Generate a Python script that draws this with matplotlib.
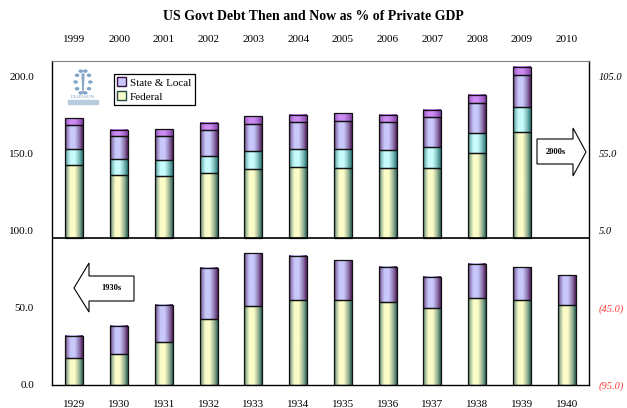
import numpy as np
import matplotlib
matplotlib.use("Agg")
import matplotlib.pyplot as plt
from matplotlib.patches import Patch, Polygon, Circle

# ── data ────────────────────────────────────────────────────────────────────
years_2000s = ["1999", "2000", "2001", "2002", "2003", "2004",
               "2005", "2006", "2007", "2008", "2009", "2010"]
years_1930s = ["1929", "1930", "1931", "1932", "1933", "1934",
               "1935", "1936", "1937", "1938", "1939", "1940"]

# 2000s panel, right-axis units (stacked segments, bottom to top)
fed_a_2000s = [47.9, 41.4, 40.3, 42.4, 45.0, 46.1, 45.9, 45.5, 45.5, 55.2, 69.1, 0]
fed_b_2000s = [10.3, 10.1, 10.8, 10.9, 11.7, 11.7, 12.3, 11.6, 13.6, 13.0, 16.2, 0]
sl_a_2000s = [15.6, 15.2, 15.6, 16.8, 17.5, 17.5, 18.2, 18.5, 19.3, 19.3, 20.6, 0]
sl_b_2000s = [4.4, 3.9, 4.3, 4.8, 5.0, 4.8, 4.8, 4.7, 4.9, 5.2, 5.4, 0]

# 1930s panel, left-axis units
fed_1930s = [17.7, 20.3, 27.9, 42.6, 51.1, 55.0, 55.2, 53.5, 49.8, 56.1, 55.2, 51.8]
sl_1930s = [14.3, 18.2, 24.0, 33.2, 34.2, 28.8, 25.8, 22.9, 20.1, 22.5, 21.0, 19.4]

OFFSET = 95.0            # right axis zero sits at 95 on the left axis
left_ticks = [0, 50, 100, 150, 200]
left_labels = ["0.0", "50.0", "100.0", "150.0", "200.0"]
right_labels = ["(95.0)", "(45.0)", "5.0", "55.0", "105.0"]

# colours: (face, edge) for the gradient fill
YELLOW = ("#fcfcc8", "#1f5a52")
CYAN = ("#c8fcfc", "#1f6a6a")
LAVENDER = ("#c8c8fc", "#4a1450")
VIOLET = ("#cc8cf4", "#7a3a9a")

SERIF = "Liberation Serif"
W, H = 627, 408


def fig_xy(px, py):
    return px / W, 1 - py / H


def shade(ax, x0, w, y0, h, colors):
    """Fill a bar segment with a horizontal light-to-dark gradient."""
    if h <= 0:
        return
    face = np.array(matplotlib.colors.to_rgb(colors[0]))
    edge = np.array(matplotlib.colors.to_rgb(colors[1]))
    t = np.linspace(0, 1, 64)
    f = np.interp(t, [0, 0.1, 0.3, 0.55, 0.8, 1], [0.0, 0.55, 1, 1, 0.55, 0.05])
    img = edge[None, :] + f[:, None] * (face - edge)[None, :]
    ax.imshow(img[None, :, :], extent=(x0, x0 + w, y0, y0 + h),
              aspect="auto", interpolation="bilinear", zorder=2)
    ax.add_patch(matplotlib.patches.Rectangle((x0, y0), w, h, fill=False,
                                              edgecolor="#111111", lw=0.9, zorder=3))


fig = plt.figure(figsize=(W / 100, H / 100), dpi=100)
ax = fig.add_axes([52 / W, 1 - 385 / H, 537 / W, 324 / H])

x = np.arange(len(years_2000s))
bw = 0.4

# 2000s stacks
for i in x:
    base = OFFSET
    for seg, col in ((fed_a_2000s, YELLOW), (fed_b_2000s, CYAN),
                     (sl_a_2000s, LAVENDER), (sl_b_2000s, VIOLET)):
        shade(ax, i - bw / 2, bw, base, seg[i], col)
        base += seg[i]

# 1930s stacks
for i in x:
    shade(ax, i - bw / 2, bw, 0, fed_1930s[i], YELLOW)
    shade(ax, i - bw / 2, bw, fed_1930s[i], sl_1930s[i], LAVENDER)

ax.axhline(OFFSET, color="black", lw=1.2, zorder=4)
ax.set_xlim(-0.5, len(x) - 0.5)
ax.set_ylim(0, 210)

for side in ("left", "right", "bottom"):
    ax.spines[side].set_color("black")
    ax.spines[side].set_linewidth(1.0)
ax.spines["top"].set_color("#808080")

ax.set_yticks(left_ticks)
ax.set_yticklabels(left_labels, fontfamily=SERIF, fontsize=8)
ax.tick_params(axis="y", length=0, pad=13)
ax.set_xticks(x)
ax.set_xticklabels(years_1930s, fontfamily=SERIF, fontsize=8)
ax.tick_params(axis="x", length=0, pad=11)

top = ax.secondary_xaxis("top")
top.set_xticks(x)
top.set_xticklabels(years_2000s, fontfamily=SERIF, fontsize=8)
top.tick_params(length=0, pad=12)
top.spines["top"].set_visible(False)

rax = ax.twinx()
rax.set_ylim(ax.get_ylim())
rax.set_yticks(left_ticks)
rax.set_yticklabels(right_labels, fontfamily=SERIF, fontsize=7.5, style="italic")
for lab in rax.get_yticklabels()[:2]:
    lab.set_color("#ff3b3b")
rax.tick_params(axis="y", length=0, pad=7)
for s in rax.spines.values():
    s.set_visible(False)

# legend
handles = [Patch(facecolor=LAVENDER[0], edgecolor="#3a1040", lw=1.0, label="State & Local"),
           Patch(facecolor=YELLOW[0], edgecolor="#1f4a42", lw=1.0, label="Federal")]
leg = fig.legend(handles=handles, loc="upper left", bbox_to_anchor=fig_xy(108, 68),
                 prop={"family": SERIF, "size": 8}, fancybox=False, framealpha=1,
                 edgecolor="black", handlelength=0.8, handleheight=0.8,
                 handletextpad=0.3, borderpad=0.35, labelspacing=0.35)
leg.get_frame().set_linewidth(0.9)

# logo placeholder (faint dial + name)
cx, cy = fig_xy(83, 82)
for a in np.linspace(0, 2 * np.pi, 10, endpoint=False):
    fig.patches.append(Circle((cx + 0.018 * np.cos(a) * H / W, cy + 0.028 * np.sin(a)),
                              0.0025, transform=fig.transFigure, color="#7fa4c8"))
fig.patches.append(Polygon([fig_xy(82, 74), fig_xy(84, 74), fig_xy(83, 92)], closed=True,
                           transform=fig.transFigure, color="#8aa8c8"))
fig.text(*fig_xy(83, 97), "DIAPASON", fontsize=3.5, color="#7fa4c8", ha="center", va="center",
         fontfamily=SERIF)
fig.patches.append(matplotlib.patches.Rectangle(fig_xy(68, 104), 30 / W, 4 / H,
                                                transform=fig.transFigure, color="#b8cce0"))

# direction arrows
right_arrow = [(537, 139), (573, 139), (573, 128), (586, 152), (573, 176), (573, 164), (537, 164)]
fig.patches.append(Polygon([fig_xy(*p) for p in right_arrow], closed=True,
                           transform=fig.transFigure, facecolor="white",
                           edgecolor="black", lw=0.8, zorder=5))
fig.text(*fig_xy(556, 152), "2000s", fontsize=6, fontweight="bold", fontfamily=SERIF,
         ha="center", va="center", zorder=6)

left_arrow = [(134, 276), (89, 276), (89, 263), (74, 288), (89, 312), (89, 301), (134, 301)]
fig.patches.append(Polygon([fig_xy(*p) for p in left_arrow], closed=True,
                           transform=fig.transFigure, facecolor="white",
                           edgecolor="black", lw=0.8, zorder=5))
fig.text(*fig_xy(111, 288), "1930s", fontsize=6, fontweight="bold", fontfamily=SERIF,
         ha="center", va="center", zorder=6)

fig.text(0.5, 1 - 16 / H, "US Govt Debt Then and Now as % of Private GDP",
         fontsize=10, fontweight="bold", fontfamily=SERIF, ha="center", va="center")

fig.savefig("out.png", dpi=100)
